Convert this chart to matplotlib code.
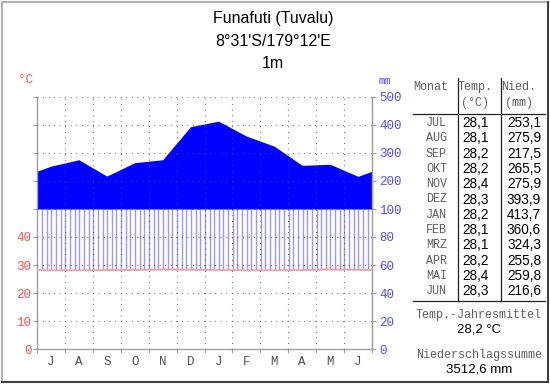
import numpy as np
import matplotlib
matplotlib.use("Agg")
import matplotlib.pyplot as plt
from matplotlib.lines import Line2D

# ---- data ----
title_lines = ["Funafuti (Tuvalu)", "8°31'S/179°12'E", "1m"]
axis_months = ['J', 'A', 'S', 'O', 'N', 'D', 'J', 'F', 'M', 'A', 'M', 'J']
table_months = ['JUL', 'AUG', 'SEP', 'OKT', 'NOV', 'DEZ', 'JAN', 'FEB', 'MRZ', 'APR', 'MAI', 'JUN']
temps = [28.1, 28.1, 28.2, 28.2, 28.4, 28.3, 28.2, 28.1, 28.1, 28.2, 28.4, 28.3]
precip = [253.1, 275.9, 217.5, 265.5, 275.9, 393.9, 413.7, 360.6, 324.3, 255.8, 259.8, 216.6]
left_ticks = [0, 10, 20, 30, 40]
right_labels = ['0', '20', '40', '60', '80', '100', '200', '300', '400', '500']

W, H = 550, 384
fig = plt.figure(figsize=(W / 100, H / 100), dpi=100)
fig.patch.set_facecolor('white')

def fx(x):
    return x / W

def fy(y):
    return 1 - y / H

def scale_p(p):
    p = np.asarray(p, dtype=float)
    return np.where(p <= 100, p / 2.0, 50 + (p - 100) / 10.0)

RED = '#ff5050'
BLUE = '#5050ff'
GREY = '#505050'
TGREY = '#606060'
MONO = 'Liberation Mono'
SANS = 'Liberation Sans'

# frame
fig.add_artist(Line2D([fx(1.5), fx(1.5)], [fy(1.5), fy(381.5)], transform=fig.transFigure, color='#b0b0b0', lw=1.5))
fig.add_artist(Line2D([fx(1.5), fx(547.5)], [fy(1.5), fy(1.5)], transform=fig.transFigure, color='#b0b0b0', lw=1.5))
fig.add_artist(Line2D([fx(1.5), fx(547.5)], [fy(381.5), fy(381.5)], transform=fig.transFigure, color='#404040', lw=1.5))
fig.add_artist(Line2D([fx(547.5), fx(547.5)], [fy(1.5), fy(381.5)], transform=fig.transFigure, color='#404040', lw=1.5))

# titles
for txt, y in zip(title_lines, [18, 42, 64]):
    fig.text(fx(273), fy(y), txt, ha='center', va='center', fontsize=11.5, family=SANS, color='black')

# ---- chart ----
L, R, T, B = 37, 372, 97, 349
ax = fig.add_axes([fx(L), fy(B), fx(R) - fx(L), fy(T) - fy(B)])
ax.set_xlim(0, 12)
ax.set_ylim(0, 90)

xc = np.arange(12) + 0.5
ps = scale_p(precip)
p_edge = (ps[0] + ps[-1]) / 2
xs = np.concatenate([[0], xc, [12]])
pys = np.concatenate([[p_edge], ps, [p_edge]])
t = np.array(temps)
t_edge = (t[0] + t[-1]) / 2
tys = np.concatenate([[t_edge], t, [t_edge]])

# solid blue above 100 mm
ax.fill_between(xs, 50, pys, where=pys >= 50, color='#0000ff', lw=0, zorder=2)
# hatched humid period
hx = np.arange(0.18, 12, 1 / 6)
h_top = np.minimum(np.interp(hx, xs, pys), 50)
h_bot = np.interp(hx, xs, tys)
ax.vlines(hx, h_bot, h_top, color='#9898ff', lw=1.0, zorder=1)
# temperature line
ax.plot(xs, tys, color='#ff9c9c', lw=1.3, zorder=3)

# grid
dot = (0, (0.7, 4.3))
for m in range(1, 12):
    ax.plot([m, m], [0, 90], color=GREY, lw=0.8, ls=dot, zorder=4)
for lv in range(10, 91, 10):
    ax.plot([0, 12], [lv, lv], color=GREY, lw=0.8, ls=dot, zorder=4)

ax.spines['top'].set_visible(False)
for s in ['left', 'right', 'bottom']:
    ax.spines[s].set_color('#a0a0a0')
    ax.spines[s].set_linewidth(1.0)

ax.set_xticks(range(13))
ax.set_xticklabels([])
ax.set_xticks(xc, minor=True)
ax.set_xticklabels(axis_months, minor=True, family=MONO, fontsize=9, color=GREY)
ax.tick_params(axis='x', which='major', length=3, color='#a0a0a0', direction='out')
ax.tick_params(axis='x', which='minor', length=0, pad=5)

ax.set_yticks(range(0, 91, 10))
ax.set_yticklabels([str(v) if v in left_ticks else '' for v in range(0, 91, 10)],
                   family=MONO, fontsize=9, color=RED)
ax.tick_params(axis='y', which='major', length=3, color='#a0a0a0', pad=1)

ax2 = ax.twinx()
ax2.set_ylim(0, 90)
ax2.set_yticks(range(0, 91, 10))
ax2.set_yticklabels(right_labels, family=MONO, fontsize=9, color=BLUE)
ax2.tick_params(axis='y', length=3, color='#a0a0a0', pad=2)
for s in ['top', 'left', 'bottom']:
    ax2.spines[s].set_visible(False)
ax2.spines['right'].set_color('#a0a0a0')

fig.text(fx(25), fy(80), '°C', ha='center', va='center', family=MONO, fontsize=9, color=RED)
fig.text(fx(385), fy(81), 'mm', ha='center', va='center', family=MONO, fontsize=7.5, color=BLUE)

# ---- table ----
LC = '#202020'
fig.add_artist(Line2D([fx(413), fx(545)], [fy(113.5), fy(113.5)], transform=fig.transFigure, color=LC, lw=0.9))
fig.add_artist(Line2D([fx(413), fx(545)], [fy(300.5), fy(300.5)], transform=fig.transFigure, color=LC, lw=0.9))
for vx in [457.5, 500.5]:
    fig.add_artist(Line2D([fx(vx), fx(vx)], [fy(78), fy(300.5)], transform=fig.transFigure, color=LC, lw=0.9))

HF = 8.5
fig.text(fx(431), fy(87), 'Monat', ha='center', va='center', family=MONO, fontsize=HF, color=TGREY)
fig.text(fx(475), fy(87), 'Temp.', ha='center', va='center', family=MONO, fontsize=HF, color=TGREY)
fig.text(fx(475), fy(103), '(°C)', ha='center', va='center', family=MONO, fontsize=HF, color=TGREY)
fig.text(fx(519), fy(87), 'Nied.', ha='center', va='center', family=MONO, fontsize=HF, color=TGREY)
fig.text(fx(519), fy(103), '(mm)', ha='center', va='center', family=MONO, fontsize=HF, color=TGREY)

row_y0, row_dy = 123, 15.3
for i, (mn, tv, pv) in enumerate(zip(table_months, temps, precip)):
    y = row_y0 + i * row_dy
    fig.text(fx(447), fy(y), mn, ha='right', va='center', family=MONO, fontsize=HF, color=TGREY)
    fig.text(fx(489), fy(y), f'{tv:.1f}'.replace('.', ','), ha='right', va='center', family=SANS, fontsize=9.8, color='black')
    fig.text(fx(541), fy(y), f'{pv:.1f}'.replace('.', ','), ha='right', va='center', family=SANS, fontsize=9.8, color='black')

mean_t = np.mean(temps)
sum_p = np.sum(precip)
fig.text(fx(479), fy(315), 'Temp.-Jahresmittel', ha='center', va='center', family=MONO, fontsize=HF, color=TGREY)
fig.text(fx(479), fy(330), f'{mean_t:.1f} °C'.replace('.', ','), ha='center', va='center', family=SANS, fontsize=9.5, color='black')
fig.text(fx(479), fy(355), 'Niederschlagssumme', ha='center', va='center', family=MONO, fontsize=HF, color=TGREY)
fig.text(fx(479), fy(369), f'{sum_p:.1f} mm'.replace('.', ','), ha='center', va='center', family=SANS, fontsize=9.5, color='black')

fig.savefig('out.png', dpi=100, facecolor='white')
